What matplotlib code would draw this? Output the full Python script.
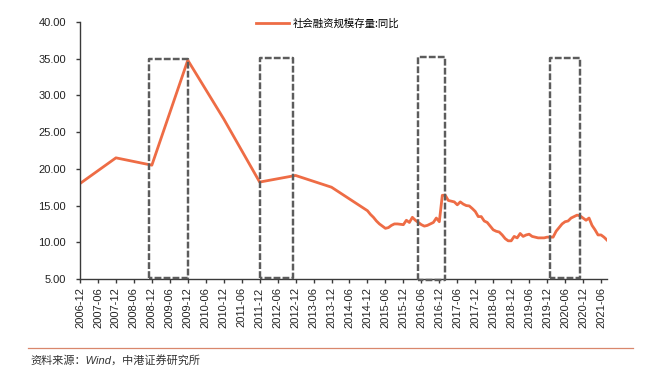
import matplotlib
matplotlib.use("Agg")
import matplotlib.pyplot as plt
import pandas as pd

plt.rcParams['font.family'] = ['Liberation Sans', 'Noto Sans CJK SC', 'DejaVu Sans']

# ---- data ----
annual_dates = ['2006-12', '2007-12', '2008-12', '2009-12', '2010-12',
                '2011-12', '2012-12', '2013-12', '2014-12']
annual_values = [18.0, 21.5, 20.5, 34.8, 26.8, 18.2, 19.1, 17.5, 14.3]

monthly_start = '2015-01'
monthly_values = [
    13.8, 13.4, 12.9, 12.5, 12.2, 11.9, 12.0, 12.3, 12.5, 12.5, 12.45, 12.4,   # 2015
    13.0, 12.7, 13.4, 13.0, 12.7, 12.4, 12.2, 12.3, 12.5, 12.7, 13.3, 12.8,    # 2016
    16.4, 16.4, 15.7, 15.6, 15.5, 15.1, 15.5, 15.2, 15.0, 14.95, 14.6, 14.2,   # 2017
    13.5, 13.5, 12.9, 12.7, 12.2, 11.7, 11.5, 11.4, 11.0, 10.5, 10.2, 10.2,    # 2018
    10.8, 10.6, 11.2, 10.8, 11.0, 11.1, 10.8, 10.7, 10.6, 10.6, 10.6, 10.7,    # 2019
    10.7, 10.7, 11.5, 12.0, 12.5, 12.8, 12.9, 13.3, 13.5, 13.7, 13.6, 13.3,    # 2020
    13.0, 13.3, 12.3, 11.7, 11.0, 11.0, 10.7, 10.3,                            # 2021
]
series_name = '社会融资规模存量:同比'

# highlight boxes: (start, end, top, bottom)
box_starts = ['2008-11', '2011-12', '2016-05', '2020-01']
box_ends = ['2009-12', '2012-11', '2017-02', '2020-11']
box_tops = [35.0, 35.1, 35.3, 35.1]
box_bottoms = [5.1, 5.15, 4.8, 5.2]

y_ticks = [5, 10, 15, 20, 25, 30, 35, 40]
source_text = '资料来源：Wind，中港证券研究所'

# ---- build x positions (months since origin) ----
origin = pd.Period(annual_dates[0], freq='M')
end_period = pd.Period(monthly_start, freq='M') + len(monthly_values) - 1


def mpos(s):
    p = pd.Period(s, freq='M')
    return (p - origin).n


dates = [pd.Period(d, freq='M') for d in annual_dates]
dates += list(pd.period_range(monthly_start, periods=len(monthly_values), freq='M'))
xs = [mpos(d) for d in dates]
ys = annual_values + monthly_values

tick_periods = list(pd.period_range(annual_dates[0], '2021-06', freq='M'))[::6]
tick_pos = [mpos(p) for p in tick_periods]
tick_labels = [p.strftime('%Y-%m') for p in tick_periods]

# ---- figure ----
fig = plt.figure(figsize=(6.53, 3.77), dpi=100)
ax = fig.add_axes([80 / 653, 1 - 279 / 377, 527 / 653, 257 / 377])

line_color = '#EE6C45'
ax.plot(xs, ys, color=line_color, lw=2.0, solid_joinstyle='round', label=series_name)

ax.set_xlim(0, mpos(end_period))
ax.set_ylim(5, 40)
ax.set_yticks(y_ticks)
ax.set_yticklabels([f'{v:.2f}' for v in y_ticks])
ax.set_xticks(tick_pos)
ax.set_xticklabels(tick_labels, rotation=90)

for s in ['top', 'right']:
    ax.spines[s].set_visible(False)
for s in ['left', 'bottom']:
    ax.spines[s].set_color('#3a3a3a')
    ax.spines[s].set_linewidth(1.0)
ax.tick_params(axis='both', direction='out', length=3, width=1.0, color='#3a3a3a',
               labelsize=8, labelcolor='#222222')
ax.tick_params(axis='y', pad=7)
ax.tick_params(axis='x', pad=3)

box_color = '#5c5c5c'
for s, e, t, b in zip(box_starts, box_ends, box_tops, box_bottoms):
    x0, x1 = mpos(s), mpos(e)
    ax.plot([x0, x0, x1, x1, x0], [b, t, t, b, b], color=box_color, lw=1.75,
            linestyle=(0, (2.8, 0.9)), clip_on=False, zorder=3)

fig.legend(loc='center', bbox_to_anchor=(328 / 653, 1 - 24 / 377), frameon=False,
           prop={'family': ['Noto Sans CJK SC'], 'size': 7.5},
           handlelength=3.1, handletextpad=0.4)

# footer
fig.add_artist(plt.Line2D([28 / 653, 633 / 653], [1 - 347.5 / 377] * 2,
                          color='#D9876C', lw=0.9, transform=fig.transFigure))
fig.text(30 / 653, 1 - 360.5 / 377, source_text, ha='left', va='center',
         fontsize=8, style='italic', color='#333333',
         family=['Liberation Sans', 'Noto Sans CJK SC', 'DejaVu Sans'])

fig.savefig('out.png', dpi=100)
